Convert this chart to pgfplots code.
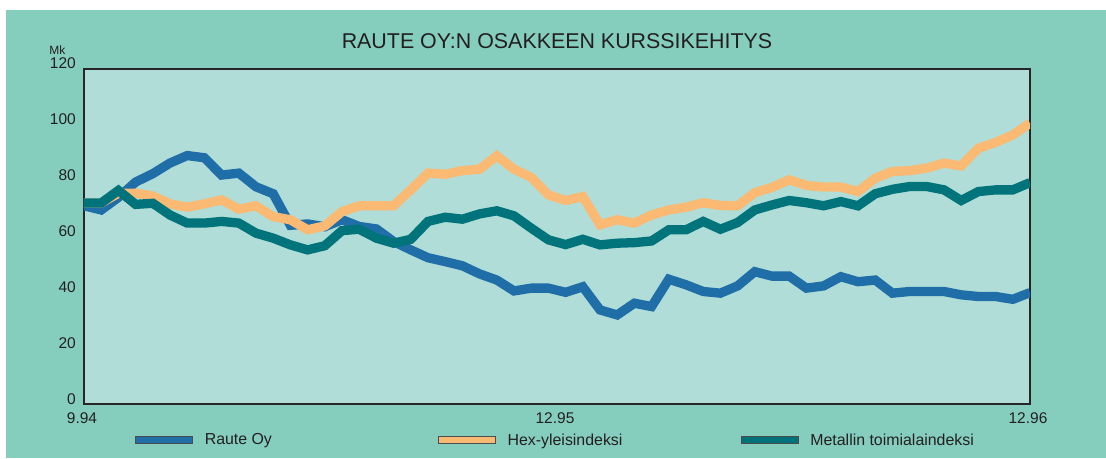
\documentclass[border=0pt]{standalone}
\usepackage{pgfplots}
\usepackage{pgfplotstable}
\usepackage{fontspec}
\setmainfont{Liberation Sans}
\pgfplotsset{compat=1.18}
\definecolor{outerbg}{RGB}{133,206,190}
\definecolor{innerbg}{RGB}{176,221,215}
\definecolor{rauteblue}{RGB}{32,110,168}
\definecolor{hexorange}{RGB}{251,186,116}
\definecolor{metalteal}{RGB}{0,115,123}
\definecolor{txt}{RGB}{35,31,32}
\pgfplotstableread{
i raute hex metal
0 71 72 72
1 69.5 72 72
2 74 75.5 76.5
3 79.5 75.5 71.5
4 82.5 74.5 71.9
5 86.3 71.7 67.7
6 89 70.5 64.8
7 88.2 71.7 64.8
8 82 73.1 65.4
9 82.7 69.8 64.8
10 77.8 71 61.2
11 75.3 67.1 59.4
12 64 66 57
13 64.5 62.4 55.2
14 63.5 63.8 56.7
15 66 68.9 62.1
16 63.6 71 62.6
17 62.7 71 59.4
18 58.2 71 57.6
19 55.2 76.7 59
20 52.4 82.7 65.4
21 51 82.3 66.9
22 49.5 83.6 66.2
23 46.6 84.1 68.1
24 44.4 88.9 69.2
25 40.5 84.1 67.4
26 41.5 81.2 63
27 41.5 74.9 58.8
28 40 72.9 57.1
29 42 74.3 59
30 33.7 64.2 57
31 31.9 66 57.6
32 36.1 64.8 57.8
33 34.9 67.7 58.4
34 44.7 69.5 62.4
35 42.7 70.5 62.4
36 40.3 72.1 65.4
37 39.7 71.1 62.6
38 42.3 71 65
39 47.4 75.7 69.5
40 45.8 77.6 71.3
41 45.8 80.3 72.9
42 41.5 78.3 72.1
43 42.3 77.7 71
44 45.6 77.7 72.5
45 43.8 76.1 71
46 44.4 80.9 75.3
47 39.7 83.3 76.9
48 40.3 83.6 77.9
49 40.3 84.5 77.9
50 40.3 86.3 76.7
51 39.1 85.3 72.9
52 38.5 91.6 76.1
53 38.5 93.7 76.7
54 37.5 96.4 76.7
55 39.9 100.6 79.3
}\datatable
\begin{document}
\begin{tikzpicture}
\useasboundingbox (-84pt,-54pt) rectangle (1022pt,404pt);
\fill[white] (-84pt,-54pt) rectangle (1022pt,404pt);
\fill[outerbg] (-78pt,-54pt) rectangle (1022pt,394pt);
\begin{axis}[
  x=17.2pt, y=2.7917pt,
  xmin=0, xmax=55, ymin=0, ymax=120,
  axis background/.style={fill=innerbg},
  axis line style={line width=1.2pt, black!85},
  major tick length=0pt,
  font=\fontsize{15.5}{18}\selectfont\color{txt},
  /pgf/number format/assume math mode=true,
  ytick={0,20,...,120},
  xtick={0,27.5,55},
  xticklabels={9.94,12.95,12.96},
  yticklabel style={anchor=base east, inner sep=0pt, xshift=-8pt, yshift=0pt},
  xticklabel style={anchor=north, inner sep=0pt, yshift=-8pt, xshift=-2pt},
  title={RAUTE OY:N OSAKKEEN KURSSIKEHITYS},
  title style={at={(rel axis cs:0.5,1)}, anchor=base, yshift=14pt, font=\fontsize{21.4}{25}\selectfont\color{txt}},
  ylabel={Mk},
  every axis y label/.style={at={(rel axis cs:0,1)}, anchor=base east, xshift=-15pt, yshift=14pt, font=\fontsize{12}{14}\selectfont\color{txt}},
  legend columns=3,
  legend style={at={(rel axis cs:0,0)}, anchor=west, xshift=51pt, yshift=-36pt,
    draw=none, fill=none, inner sep=0pt, outer sep=0pt,
    font=\fontsize{15.9}{18}\selectfont\color{txt},
    nodes={inner sep=0pt},
    /tikz/column sep=0pt,
    /tikz/every odd column/.append style={column sep=12pt}},
  legend cell align=left,
]
\addplot[rauteblue, line width=9.3pt, line join=miter, miter limit=2, forget plot] table[x=i, y=raute] {\datatable};
\addplot[hexorange, line width=9.3pt, line join=miter, miter limit=2, forget plot] table[x=i, y=hex] {\datatable};
\addplot[metalteal, line width=9.3pt, line join=miter, miter limit=2, forget plot] table[x=i, y=metal] {\datatable};
\addlegendimage{legend image code/.code={\draw[fill=rauteblue, draw=black!70, line width=0.8pt] (0pt,-3.5pt) rectangle (57pt,3.5pt);}}
\addlegendentry{\makebox[233pt][l]{Raute Oy}}
\addlegendimage{legend image code/.code={\draw[fill=hexorange, draw=black!70, line width=0.8pt] (0pt,-3.5pt) rectangle (57pt,3.5pt);}}
\addlegendentry{\makebox[233pt][l]{Hex-yleisindeksi}}
\addlegendimage{legend image code/.code={\draw[fill=metalteal, draw=black!70, line width=0.8pt] (0pt,-3.5pt) rectangle (57pt,3.5pt);}}
\addlegendentry{\makebox[200pt][l]{Metallin toimialaindeksi}}
\end{axis}
\end{tikzpicture}
\end{document}
